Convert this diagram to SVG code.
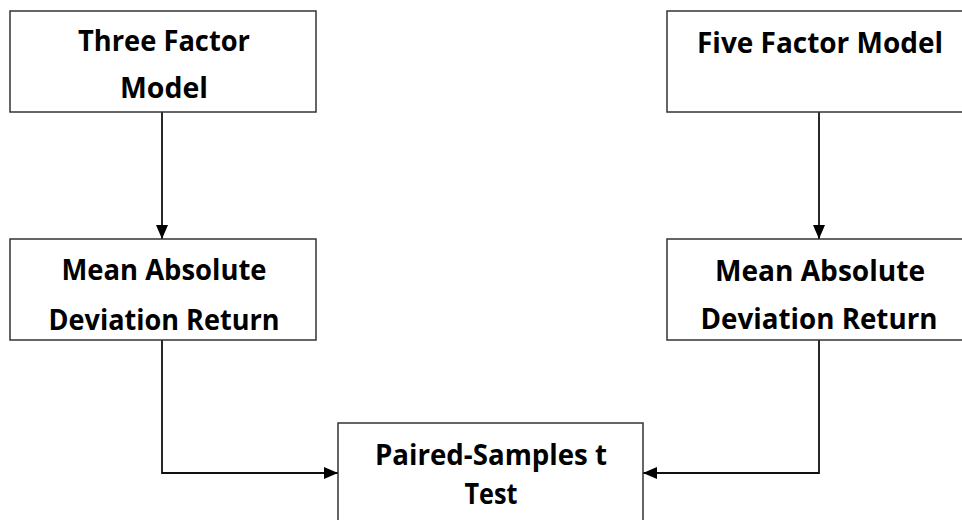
<svg xmlns="http://www.w3.org/2000/svg" width="962" height="520" viewBox="0 0 962 520">
<style>
.box{fill:#fff;stroke:#333;stroke-width:1.5}
.t{font-family:"Open Sans","Liberation Sans",sans-serif;font-weight:700;font-size:28px;fill:#000;text-anchor:middle}
.c{fill:none;stroke:#111;stroke-width:1.8}
</style>
<defs>
<marker id="ah" viewBox="0 0 14 12" refX="14" refY="6" markerWidth="14" markerHeight="12" markerUnits="userSpaceOnUse" orient="auto">
<path d="M0,0 L14,6 L0,12 Z" fill="#000"/>
</marker>
</defs>
<rect width="962" height="520" fill="#fff"/>
<g id="connectors">
<line class="c" x1="162" y1="112" x2="162" y2="239" marker-end="url(#ah)"/>
<line class="c" x1="819" y1="112" x2="819" y2="239" marker-end="url(#ah)"/>
<polyline class="c" points="162,340 162,473 338,473" marker-end="url(#ah)"/>
<polyline class="c" points="819,340 819,473 643,473" marker-end="url(#ah)"/>
</g>
<g id="three">
<rect class="box" x="10" y="11" width="306" height="101"/>
<text class="t" x="164" y="51" textLength="172" lengthAdjust="spacingAndGlyphs">Three Factor</text>
<text class="t" x="164" y="98" textLength="88" lengthAdjust="spacingAndGlyphs">Model</text>
</g>
<g id="five">
<rect class="box" x="667" y="11" width="300" height="101"/>
<text class="t" x="820" y="53" textLength="246" lengthAdjust="spacingAndGlyphs">Five Factor Model</text>
</g>
<g id="mad1">
<rect class="box" x="10" y="239" width="306" height="101"/>
<text class="t" x="164" y="280" textLength="205" lengthAdjust="spacingAndGlyphs">Mean Absolute</text>
<text class="t" x="164" y="330" textLength="231" lengthAdjust="spacingAndGlyphs">Deviation Return</text>
</g>
<g id="mad2">
<rect class="box" x="667" y="239" width="300" height="101"/>
<text class="t" x="820" y="281" textLength="210" lengthAdjust="spacingAndGlyphs">Mean Absolute</text>
<text class="t" x="819" y="329" textLength="237" lengthAdjust="spacingAndGlyphs">Deviation Return</text>
</g>
<g id="paired">
<rect class="box" x="338" y="423" width="305" height="110"/>
<text class="t" x="491" y="465" textLength="232" lengthAdjust="spacingAndGlyphs">Paired-Samples t</text>
<text class="t" x="491" y="504" textLength="53" lengthAdjust="spacingAndGlyphs">Test</text>
</g>
</svg>
